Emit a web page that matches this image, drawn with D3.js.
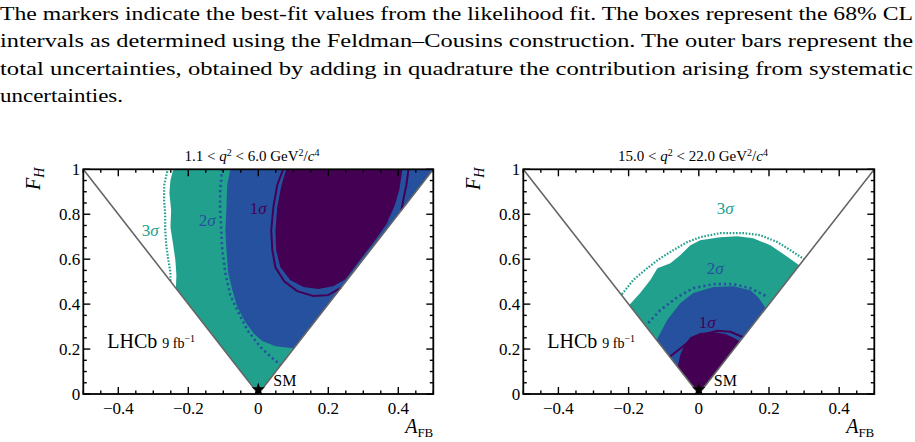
<!DOCTYPE html>
<html>
<head>
<meta charset="utf-8">
<script src="https://cdn.jsdelivr.net/npm/d3@7.8.5/dist/d3.min.js"></script>
<style>
  body { margin: 0; background: #fff; }
  svg { display: block; }
  svg text { font-family: "Liberation Serif", "Times New Roman", Times, serif; }
</style>
</head>
<body>
<div id="chart"></div>
<script>
// caption text above the figure
const captionLines = [
  'The markers indicate the best-fit values from the likelihood fit. The boxes represent the 68% CL',
  'intervals as determined using the Feldman\u2013Cousins construction. The outer bars represent the',
  'total uncertainties, obtained by adding in quadrature the contribution arising from systematic',
  'uncertainties.'
];

// contours, points are [A_FB, F_H]
// 1.1 < q2 < 6.0
const lowFill3 = [[-0.243, 1.0], [-0.251, 0.951], [-0.254, 0.893], [-0.249, 0.818], [-0.251, 0.742],
  [-0.243, 0.662], [-0.237, 0.596], [-0.234, 0.529], [-0.2355, 0.471], [0, 0], [0.5, 1.0]];
const lowFill2 = [[-0.080, 1.0], [-0.089, 0.929], [-0.091, 0.831], [-0.094, 0.729], [-0.091, 0.640],
  [-0.086, 0.538], [-0.074, 0.462], [-0.060, 0.387], [-0.037, 0.320], [-0.014, 0.271], [0.011, 0.236],
  [0.049, 0.213], [0.102, 0.204], [0.5, 1.0]];
const lowFill1 = [[0.080, 1.0], [0.066, 0.929], [0.054, 0.831], [0.049, 0.729], [0.051, 0.640],
  [0.063, 0.564], [0.091, 0.507], [0.129, 0.476], [0.171, 0.467], [0.214, 0.480], [0.249, 0.511],
  [0.287, 0.590], [0.330, 0.676], [0.366, 0.756], [0.390, 0.840], [0.403, 0.910], [0.412, 1.0]];
const lowLine1a = [[0.071, 1.0], [0.054, 0.929], [0.043, 0.831], [0.037, 0.729], [0.040, 0.640],
  [0.049, 0.564], [0.074, 0.502], [0.111, 0.458], [0.157, 0.436], [0.200, 0.440], [0.237, 0.474]];
const lowLine1b = [[0.429, 1.0], [0.423, 0.929], [0.414, 0.862], [0.409, 0.818]];
const lowLine2 = [[-0.103, 1.0], [-0.109, 0.907], [-0.109, 0.831], [-0.106, 0.729], [-0.103, 0.640],
  [-0.094, 0.538], [-0.080, 0.440], [-0.060, 0.373], [-0.031, 0.284], [0.006, 0.209], [0.040, 0.160],
  [0.064, 0.129]];
const lowLine3 = [[-0.260, 0.991], [-0.269, 0.929], [-0.269, 0.862], [-0.266, 0.796], [-0.266, 0.729],
  [-0.263, 0.662], [-0.257, 0.596], [-0.251, 0.542], [-0.251, 0.502]];

// 15.0 < q2 < 22.0
const highFill3 = [[-0.198, 0.396], [-0.167, 0.449], [-0.138, 0.507], [-0.118, 0.560], [-0.081, 0.582],
  [-0.053, 0.618], [-0.024, 0.662], [0.004, 0.684], [0.061, 0.698], [0.110, 0.702], [0.155, 0.693],
  [0.204, 0.662], [0.246, 0.618], [0.286, 0.573], [0, 0]];
const highFill2 = [[-0.120, 0.240], [-0.090, 0.329], [-0.053, 0.404], [-0.016, 0.449], [0.041, 0.476],
  [0.098, 0.480], [0.147, 0.462], [0.169, 0.431], [0.191, 0.382], [0, 0]];
const highFill1 = [[-0.060, 0.120], [-0.053, 0.173], [-0.041, 0.218], [-0.024, 0.253], [0.004, 0.271],
  [0.041, 0.276], [0.075, 0.267], [0.101, 0.249], [0.117, 0.234], [0, 0]];
const highLine1 = [[-0.083, 0.166], [-0.034, 0.225], [0.004, 0.262], [0.052, 0.281], [0.090, 0.277],
  [0.118, 0.258], [0.127, 0.254]];
const highLine2 = [[-0.144, 0.316], [-0.110, 0.373], [-0.061, 0.431], [-0.016, 0.471], [0.041, 0.489],
  [0.098, 0.489], [0.147, 0.471], [0.198, 0.431]];
const highLine3 = [[-0.219, 0.444], [-0.187, 0.507], [-0.147, 0.560], [-0.110, 0.604], [-0.073, 0.640],
  [-0.033, 0.676], [0.004, 0.698], [0.061, 0.716], [0.127, 0.716], [0.175, 0.707], [0.224, 0.676],
  [0.261, 0.640], [0.300, 0.600]];

// Standard Model point
const smPoint = [0, 0.02];

const colors = { s3: '#22a08e', s2: '#26519f', s1: '#440154' };

const width = 915, height = 442;
const svg = d3.select('#chart').append('svg')
  .attr('width', width)
  .attr('height', height)
  .attr('font-family', '"Liberation Serif", "Times New Roman", serif');

// caption
const caption = svg.append('g').style('font-size', '19px').attr('fill', '#000');
captionLines.forEach((t, i) => {
  caption.append('text')
    .attr('x', 0)
    .attr('y', 20 + i * 27.3)
    .attr('textLength', i < 3 ? 913 : 123)
    .attr('lengthAdjust', 'spacingAndGlyphs')
    .text(t);
});

const panels = [
  {
    x0: 83.3, x1: 433.3, titleX: 252,
    title: [['1.1 < ', 0], ['q', 0, 'i'], ['2', 1], [' < 6.0 GeV', 0], ['2', 1], ['/', 0], ['c', 0, 'i'], ['4', 1]],
    fills: [[lowFill3, colors.s3], [lowFill2, colors.s2], [lowFill1, colors.s1]],
    lines: [[lowLine3, colors.s3, '1.6,1.6', 2.2], [lowLine2, colors.s2, '2.2,3', 2.6],
            [lowLine1a, colors.s1, null, 2], [lowLine1b, colors.s1, null, 2]],
    labels: [['3', -0.309, 0.729, colors.s3], ['2', -0.146, 0.773, colors.s2], ['1', 0.0, 0.827, colors.s1]]
  },
  {
    x0: 523.3, x1: 874.3, titleX: 693,
    title: [['15.0 < ', 0], ['q', 0, 'i'], ['2', 1], [' < 22.0 GeV', 0], ['2', 1], ['/', 0], ['c', 0, 'i'], ['4', 1]],
    fills: [[highFill3, colors.s3], [highFill2, colors.s2], [highFill1, colors.s1]],
    lines: [[highLine3, colors.s3, '1.6,1.6', 2.2], [highLine2, colors.s2, '2.2,3', 2.6],
            [highLine1, colors.s1, null, 2]],
    labels: [['3', 0.075, 0.827, colors.s3], ['2', 0.047, 0.560, colors.s2], ['1', 0.024, 0.320, colors.s1]]
  }
];

const yTop = 169.3, yBottom = 394;

panels.forEach((p, pi) => {
  const x = d3.scaleLinear().domain([-0.5, 0.5]).range([p.x0, p.x1]);
  const y = d3.scaleLinear().domain([0, 1]).range([yBottom, yTop]);
  const line = d3.line().x(d => x(d[0])).y(d => y(d[1]));
  const g = svg.append('g');

  const clipId = `clip${pi}`;
  g.append('clipPath').attr('id', clipId)
    .append('rect')
    .attr('x', p.x0).attr('y', yTop)
    .attr('width', p.x1 - p.x0).attr('height', yBottom - yTop);

  const plot = g.append('g').attr('clip-path', `url(#${clipId})`);

  // filled regions
  p.fills.forEach(([pts, c]) => {
    plot.append('path')
      .attr('d', line(pts) + 'Z')
      .attr('fill', c);
  });

  // contour lines
  p.lines.forEach(([pts, c, dash, w]) => {
    plot.append('path')
      .attr('d', line(pts))
      .attr('fill', 'none')
      .attr('stroke', c)
      .attr('stroke-width', w)
      .attr('stroke-dasharray', dash);
  });

  // physical boundary |A_FB| <= F_H / 2
  plot.append('path')
    .attr('d', line([[-0.5, 1], [0, 0], [0.5, 1]]))
    .attr('fill', 'none')
    .attr('stroke', '#666')
    .attr('stroke-width', 1.6);

  // sigma labels
  p.labels.forEach(([n, a, f, c]) => {
    const t = g.append('text')
      .attr('x', x(a)).attr('y', y(f) + 6)
      .attr('text-anchor', 'middle')
      .attr('fill', c)
      .style('font-size', '17px');
    t.append('tspan').text(n);
    t.append('tspan').style('font-style', 'italic').text('\u03c3');
  });

  // SM marker
  g.append('path')
    .attr('d', d3.symbol(d3.symbolStar).size(55)())
    .attr('transform', `translate(${x(smPoint[0])},${y(smPoint[1])})`)
    .attr('fill', '#000');
  g.append('text')
    .attr('x', x(smPoint[0]) + 15).attr('y', yBottom - 8.5)
    .style('font-size', '16px')
    .text('SM');

  // LHCb label
  const lhcb = g.append('text')
    .attr('x', p.x0 + 24).attr('y', 348);
  lhcb.append('tspan').style('font-size', '20px').text('LHCb ');
  lhcb.append('tspan').style('font-size', '14px').text('9 fb');
  lhcb.append('tspan').style('font-size', '10px').attr('dy', -6).text('\u22121');

  // frame
  g.append('rect')
    .attr('x', p.x0).attr('y', yTop)
    .attr('width', p.x1 - p.x0).attr('height', yBottom - yTop)
    .attr('fill', 'none')
    .attr('stroke', '#000')
    .attr('stroke-width', 1.8);

  // ticks on all four sides
  const major = x.ticks(5);
  const isMajor = (v, arr) => arr.some(m => Math.abs(m - v) < 1e-9);
  const ticks = g.append('g').attr('stroke', '#000').attr('stroke-width', 1.4);
  x.ticks(20).forEach(v => {
    const len = isMajor(v, major) ? 7 : 3.5;
    ticks.append('line').attr('x1', x(v)).attr('x2', x(v)).attr('y1', yBottom).attr('y2', yBottom - len);
    ticks.append('line').attr('x1', x(v)).attr('x2', x(v)).attr('y1', yTop).attr('y2', yTop + len);
  });
  const yMajor = y.ticks(5);
  y.ticks(20).forEach(v => {
    const len = isMajor(v, yMajor) ? 7 : 3.5;
    ticks.append('line').attr('y1', y(v)).attr('y2', y(v)).attr('x1', p.x0).attr('x2', p.x0 + len);
    ticks.append('line').attr('y1', y(v)).attr('y2', y(v)).attr('x1', p.x1).attr('x2', p.x1 - len);
  });

  const fmt = v => (v === 0 ? '0' : v === 1 ? '1' : d3.format('.1f')(v).replace('-', '\u2212'));

  g.selectAll('.xlab').data(major).enter().append('text')
    .attr('x', d => x(d))
    .attr('y', 414)
    .attr('text-anchor', 'middle')
    .style('font-size', '17px')
    .text(fmt);

  g.selectAll('.ylab').data(yMajor).enter().append('text')
    .attr('x', p.x0 - 3)
    .attr('y', d => y(d) + 6)
    .attr('text-anchor', 'end')
    .style('font-size', '17px')
    .text(fmt);

  // axis titles
  const xt = g.append('text')
    .attr('x', p.x1).attr('y', 433)
    .attr('text-anchor', 'end');
  xt.append('tspan').style('font-size', '20px').style('font-style', 'italic').text('A');
  xt.append('tspan').style('font-size', '13px').attr('dy', 4).text('FB');

  const yt = g.append('text')
    .attr('transform', `translate(${p.x0 - 43},190) rotate(-90)`);
  yt.append('tspan').style('font-size', '20px').style('font-style', 'italic').text('F');
  yt.append('tspan').style('font-size', '14px').style('font-style', 'italic').attr('dy', 4).text('H');

  // bin title
  const tt = g.append('text')
    .attr('x', p.titleX).attr('y', 160.5)
    .attr('text-anchor', 'middle')
    .style('font-size', '15px');
  let up = false;
  p.title.forEach(([s, sup, it]) => {
    const ts = tt.append('tspan').text(s);
    if (it) ts.style('font-style', 'italic');
    if (sup && !up) { ts.attr('dy', -5).style('font-size', '10px'); up = true; }
    else if (!sup && up) { ts.attr('dy', 5); up = false; }
  });
});
</script>
</body>
</html>
